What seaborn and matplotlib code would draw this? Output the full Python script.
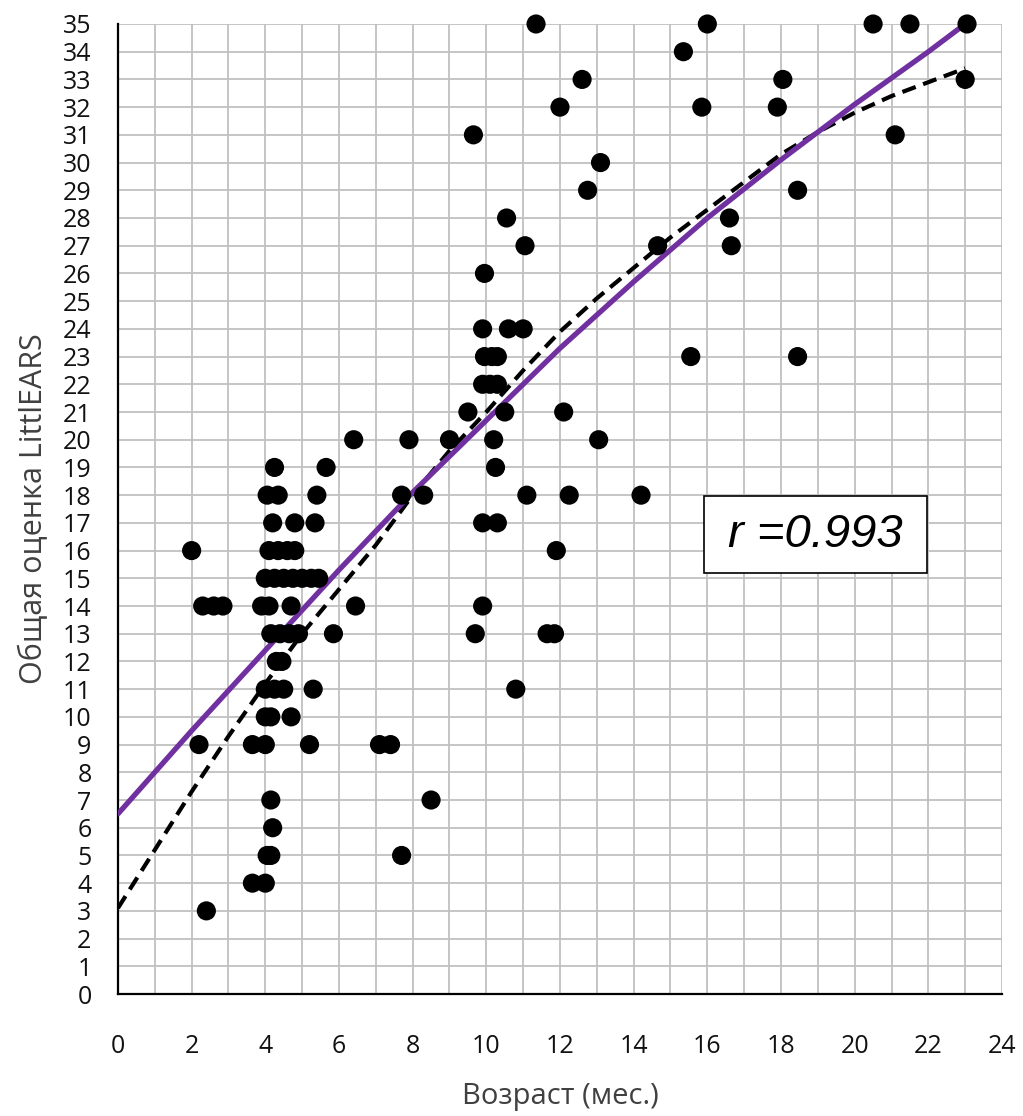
import matplotlib
matplotlib.use("Agg")
import matplotlib.pyplot as plt
from matplotlib.patches import Rectangle
from matplotlib.ticker import MultipleLocator
import seaborn as sns
import pandas as pd

# Child age (months) and total LittlEARS score for each observation
age = [
    11.35, 16.0, 20.5, 21.5, 23.05,
    15.35,
    12.6, 18.05, 23.0,
    12.0, 15.85, 17.9,
    9.65, 21.1,
    13.1,
    12.75, 18.45,
    10.55, 16.6,
    11.05, 14.65, 16.65,
    9.95,
    9.9, 10.6, 11.0,
    9.95, 10.15, 10.3, 15.55, 18.45,
    9.9, 10.1, 10.3,
    9.5, 10.5, 12.1,
    6.4, 7.9, 9.0, 10.2, 13.05,
    4.25, 5.65, 10.25,
    4.05, 4.35, 5.4, 7.7, 8.3, 11.1, 12.25, 14.2,
    4.2, 4.8, 5.35, 9.9, 10.3,
    2.0, 4.1, 4.35, 4.6, 4.8, 11.9,
    4.0, 4.25, 4.5, 4.75, 5.0, 5.25, 5.45,
    2.3, 2.6, 2.85, 3.9, 4.1, 4.7, 6.45, 9.9,
    4.15, 4.4, 4.65, 4.9, 5.85, 9.7, 11.65, 11.85,
    4.3, 4.45,
    4.0, 4.25, 4.5, 5.3, 10.8,
    4.0, 4.15, 4.7,
    2.2, 3.65, 4.0, 5.2, 7.1, 7.4,
    4.15, 8.5,
    4.2,
    4.05, 4.15, 7.7,
    3.65, 4.0,
    2.4,
]
score = (
    [35] * 5 + [34] * 1 + [33] * 3 + [32] * 3 + [31] * 2 + [30] * 1
    + [29] * 2 + [28] * 2 + [27] * 3 + [26] * 1 + [24] * 3 + [23] * 5
    + [22] * 3 + [21] * 3 + [20] * 5 + [19] * 3 + [18] * 8 + [17] * 5
    + [16] * 6 + [15] * 7 + [14] * 8 + [13] * 8 + [12] * 2 + [11] * 5
    + [10] * 3 + [9] * 6 + [7] * 2 + [6] * 1 + [5] * 3 + [4] * 2 + [3] * 1
)

# Trend curves sampled along the age axis
trend_age = [0, 2, 4, 6, 8, 10, 12, 14, 16, 18, 20, 22, 23]
trend_solid = [6.5, 9.5, 12.4, 15.3, 18.1, 20.7, 23.3, 25.7, 28.0, 30.1, 32.1, 34.0, 35.0]

dash_age = [0, 1, 2, 3, 4, 5, 6, 7, 8, 9, 10, 11, 12, 13, 14, 15, 16, 17, 18, 19, 20, 21, 22, 23]
trend_dash = [3.1, 5.2, 7.3, 9.3, 11.2, 13.0, 14.6, 16.2, 18.0, 19.6, 21.0, 22.5, 23.9,
              25.1, 26.2, 27.3, 28.3, 29.3, 30.3, 31.1, 31.8, 32.4, 32.9, 33.4]

r_label = "r =0.993"
x_label = "Возраст (мес.)"
y_label = "Общая оценка LittlEARS"

sns.set_style("white")
plt.rcParams["font.family"] = ["Open Sans", "DejaVu Sans"]

points = pd.DataFrame({"age": age, "score": score})
solid = pd.DataFrame({"age": trend_age, "score": trend_solid})
dashed = pd.DataFrame({"age": dash_age, "score": trend_dash})

fig = plt.figure(figsize=(10.23, 11.16), dpi=100)
ax = fig.add_axes([0.1153, 0.1093, 0.8642, 0.8692])

ax.set_xlim(0, 24)
ax.set_ylim(0, 35)

# Grid every month / every point
ax.xaxis.set_major_locator(MultipleLocator(2))
ax.xaxis.set_minor_locator(MultipleLocator(1))
ax.yaxis.set_major_locator(MultipleLocator(1))
ax.grid(True, which="both", color="#c0c0c0", linewidth=1.3, zorder=0)
ax.set_axisbelow(True)

sns.lineplot(data=dashed, x="age", y="score", ax=ax, color="black",
             linewidth=3.0, zorder=3)
ax.lines[-1].set_dashes([3.4, 1.9])
ax.lines[-1].set_dash_capstyle("butt")

sns.lineplot(data=solid, x="age", y="score", ax=ax, color="#7030A0",
             linewidth=3.8, zorder=4)

sns.scatterplot(data=points, x="age", y="score", ax=ax, color="black",
                s=190, edgecolor="none", zorder=5)

for c in ax.collections:
    c.set_clip_on(False)

for side in ("top", "right"):
    ax.spines[side].set_visible(False)
for side in ("left", "bottom"):
    ax.spines[side].set_color("black")
    ax.spines[side].set_linewidth(1.6)

ax.tick_params(axis="both", which="major", direction="out", length=8,
               width=1.5, color="black", labelsize=18, labelcolor="#111111")
ax.tick_params(axis="x", which="major", pad=21)
ax.tick_params(axis="y", which="major", pad=11)
ax.tick_params(axis="x", which="minor", length=0)
ax.set_xticks(range(0, 25, 2))
ax.set_yticks(range(0, 36))

ax.set_xlabel(x_label, fontsize=21, color="#404040", labelpad=16)
ax.set_ylabel(y_label, fontsize=22, color="#404040", labelpad=10)

# Correlation box
ax.add_patch(Rectangle((0.663, 0.434), 0.252, 0.0794, transform=ax.transAxes,
                       facecolor="white", edgecolor="black", linewidth=1.2, zorder=6))
ax.text(0.789, 0.4737, r_label, transform=ax.transAxes, ha="center", va="center",
        fontsize=34, fontstyle="italic", family=["Liberation Sans", "DejaVu Sans"],
        color="black", zorder=7)

fig.savefig("out.png", dpi=100)
